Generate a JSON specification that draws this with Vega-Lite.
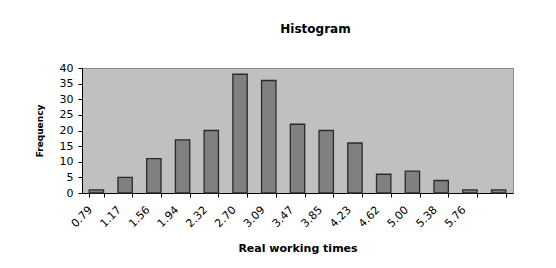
{
  "$schema": "https://vega.github.io/schema/vega-lite/v6.json",
  "width": 431,
  "height": 125,
  "autosize": {"type": "none"},
  "padding": {"left": 82, "top": 68, "right": 43, "bottom": 75},
  "background": "white",
  "title": {
    "text": "Histogram",
    "font": "DejaVu Sans",
    "fontSize": 12,
    "fontWeight": "bold",
    "color": "#000000",
    "anchor": "middle",
    "dx": 18,
    "offset": 26
  },
  "data": {
    "values": [
      {"bin": "0.79", "frequency": 1},
      {"bin": "1.17", "frequency": 5},
      {"bin": "1.56", "frequency": 11},
      {"bin": "1.94", "frequency": 17},
      {"bin": "2.32", "frequency": 20},
      {"bin": "2.70", "frequency": 38},
      {"bin": "3.09", "frequency": 36},
      {"bin": "3.47", "frequency": 22},
      {"bin": "3.85", "frequency": 20},
      {"bin": "4.23", "frequency": 16},
      {"bin": "4.62", "frequency": 6},
      {"bin": "5.00", "frequency": 7},
      {"bin": "5.38", "frequency": 4},
      {"bin": "5.76", "frequency": 1},
      {"bin": "More", "frequency": 1}
    ]
  },
  "mark": {"type": "bar", "fill": "#808080", "stroke": "#2a2a2a", "strokeWidth": 1.3},
  "encoding": {
    "x": {
      "field": "bin",
      "type": "ordinal",
      "sort": null,
      "scale": {"paddingInner": 0.5, "paddingOuter": 0.25},
      "axis": {
        "title": "Real working times",
        "titleFont": "DejaVu Sans",
        "titleFontSize": 11,
        "titleFontWeight": "bold",
        "titleColor": "#000000",
        "titlePadding": 14,
        "labelAngle": -45,
        "labelAlign": "right",
        "labelBaseline": "middle",
        "labelFont": "DejaVu Sans",
        "labelFontSize": 11,
        "labelColor": "#000000",
        "labelPadding": 11,
        "labelOffset": -6,
        "labelExpr": "datum.value == 'More' ? '' : datum.value",
        "tickBand": "extent",
        "tickSize": 4,
        "tickColor": "#000000",
        "domainColor": "#000000",
        "grid": false
      }
    },
    "y": {
      "field": "frequency",
      "type": "quantitative",
      "scale": {"domain": [0, 40], "nice": false},
      "axis": {
        "title": "Frequency",
        "titleFont": "DejaVu Sans",
        "titleFontSize": 9,
        "titleFontWeight": "bold",
        "titleColor": "#000000",
        "titlePadding": 15,
        "values": [0, 5, 10, 15, 20, 25, 30, 35, 40],
        "labelFont": "DejaVu Sans",
        "labelFontSize": 11,
        "labelColor": "#000000",
        "labelPadding": 5,
        "tickSize": 4,
        "tickColor": "#000000",
        "domainColor": "#000000",
        "grid": false
      }
    }
  },
  "config": {
    "view": {"fill": "#C0C0C0", "stroke": "#8a8a8a", "strokeWidth": 1}
  }
}
